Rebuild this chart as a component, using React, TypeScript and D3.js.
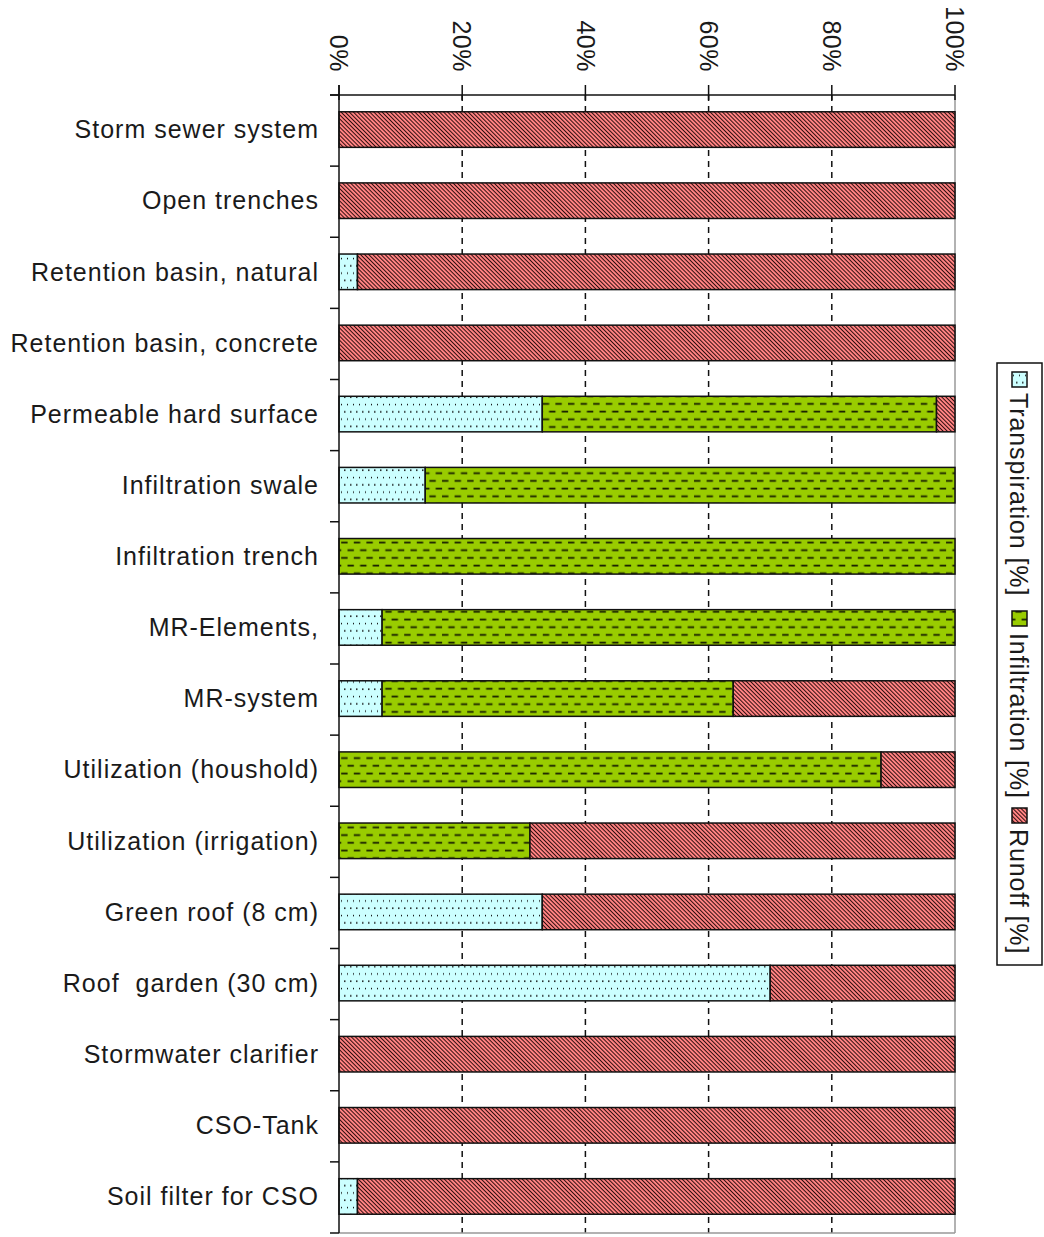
import React from "react";
import * as d3 from "d3";

// Water balance share per stormwater measure, in percent of rainfall.
const categories = [
  "Storm sewer system",
  "Open trenches",
  "Retention basin, natural",
  "Retention basin, concrete",
  "Permeable hard surface",
  "Infiltration swale",
  "Infiltration trench",
  "MR-Elements,",
  "MR-system",
  "Utilization (houshold)",
  "Utilization (irrigation)",
  "Green roof (8 cm)",
  "Roof  garden (30 cm)",
  "Stormwater clarifier",
  "CSO-Tank",
  "Soil filter for CSO",
];
const transpiration = [0, 0, 3, 0, 33, 14, 0, 7, 7, 0, 0, 33, 70, 0, 0, 3];
const infiltration = [0, 0, 0, 0, 64, 86, 100, 93, 57, 88, 31, 0, 0, 0, 0, 0];
const runoff = [100, 100, 97, 100, 3, 0, 0, 0, 36, 12, 69, 67, 30, 100, 100, 97];

const seriesKeys = ["transpiration", "infiltration", "runoff"];
const seriesLabels = ["Transpiration [%]", "Infiltration [%]", "Runoff [%]"];
const xTicks = [0, 20, 40, 60, 80, 100];

const W = 1044;
const H = 1237;
const FONT = "'Liberation Sans', Arial, sans-serif";
const INK = "#1a1a1a";

export default function App() {
  const x = d3.scaleLinear().domain([0, 100]).range([339, 955]);
  const y = d3
    .scaleBand<string>()
    .domain(categories)
    .range([95, 1233])
    .paddingInner(0.5)
    .paddingOuter(0.25);

  const rows = categories.map((c, i) => ({
    category: c,
    transpiration: transpiration[i],
    infiltration: infiltration[i],
    runoff: runoff[i],
  }));
  const stacked = d3.stack<any>().keys(seriesKeys)(rows);
  const fills: Record<string, string> = {
    transpiration: "url(#pTrans)",
    infiltration: "url(#pInf)",
    runoff: "url(#pRun)",
  };

  const [y0, y1] = y.range();
  const step = y.step();
  const legendItems = [
    { key: "transpiration", sy: 372, ty: 393 },
    { key: "infiltration", sy: 611, ty: 633 },
    { key: "runoff", sy: 808, ty: 829 },
  ];

  return (
    <svg
      width={W}
      height={H}
      style={{ position: "absolute", left: 0, top: 0, background: "#fff" }}
      fontFamily={FONT}
    >
      <defs>
        <pattern id="pTrans" patternUnits="userSpaceOnUse" width={6} height={14.6}>
          <rect width={6} height={14.6} fill="#ccffff" />
          <rect x={2} y={2.3} width={1.5} height={1.5} fill="#111" />
          <rect x={5} y={9.6} width={1.5} height={1.5} fill="#111" />
        </pattern>
        <pattern id="pInf" patternUnits="userSpaceOnUse" width={12.6} height={15.4}>
          <rect width={12.6} height={15.4} fill="#99cc00" />
          <rect x={1} y={2.6} width={6.4} height={1.8} fill="#1a2200" />
          <rect x={7.3} y={10.3} width={6.4} height={1.8} fill="#1a2200" />
          <rect x={-5.3} y={10.3} width={6.4} height={1.8} fill="#1a2200" />
        </pattern>
        <pattern
          id="pRun"
          patternUnits="userSpaceOnUse"
          width={8}
          height={2.9}
          patternTransform="rotate(45)"
        >
          <rect width={8} height={2.9} fill="#ff8282" />
          <rect y={0} width={8} height={0.95} fill="#2a0c0c" />
        </pattern>
      </defs>

      {/* dashed gridlines */}
      {xTicks
        .filter((t) => t > 0 && t < 100)
        .map((t) => (
          <line
            key={"g" + t}
            x1={x(t)}
            x2={x(t)}
            y1={y0}
            y2={y1}
            stroke="#111"
            strokeWidth={1.5}
            strokeDasharray="6,5"
          />
        ))}

      {/* plot area border (right and bottom) */}
      <line x1={x(100)} x2={x(100)} y1={y0} y2={y1} stroke="#999" strokeWidth={1.5} />
      <line x1={x(0)} x2={x(100)} y1={y1} y2={y1} stroke="#999" strokeWidth={1.5} />

      {/* stacked bars */}
      {stacked.map((s) => (
        <g key={s.key}>
          {s.map((d, i) =>
            d[1] - d[0] > 0 ? (
              <rect
                key={i}
                x={x(d[0])}
                y={(y(categories[i]) as number) - 1}
                width={x(d[1]) - x(d[0])}
                height={y.bandwidth()}
                fill={fills[s.key]}
                stroke="#111"
                strokeWidth={1.5}
              />
            ) : null
          )}
        </g>
      ))}

      {/* value axis on top */}
      <line x1={330} x2={x(100)} y1={y0} y2={y0} stroke="#111" strokeWidth={1.5} />
      {xTicks.map((t) => (
        <g key={"t" + t}>
          <line x1={x(t)} x2={x(t)} y1={85} y2={100} stroke="#111" strokeWidth={1.5} />
          <text
            transform={`translate(${x(t)},72) rotate(90)`}
            textAnchor="end"
            dy="0.35em"
            fontSize={25}
            letterSpacing={0.5}
            fill={INK}
          >
            {t}%
          </text>
        </g>
      ))}

      {/* category axis */}
      <line x1={x(0)} x2={x(0)} y1={85} y2={y1} stroke="#111" strokeWidth={1.5} />
      {d3.range(categories.length + 1).map((i) => (
        <line
          key={"ct" + i}
          x1={330}
          x2={x(0)}
          y1={y0 + i * step}
          y2={y0 + i * step}
          stroke="#111"
          strokeWidth={1.5}
        />
      ))}
      {categories.map((c) => (
        <text
          key={"cl" + c}
          x={319}
          y={(y(c) as number) + y.bandwidth() / 2 - 1}
          dy="0.35em"
          textAnchor="end"
          fontSize={25}
          letterSpacing={1.0}
          fill={INK}
          style={{ whiteSpace: "pre" }}
        >
          {c}
        </text>
      ))}

      {/* legend */}
      <rect x={997} y={363} width={45} height={602} fill="#fff" stroke="#111" strokeWidth={1.5} />
      {legendItems.map((it, i) => (
        <g key={it.key}>
          <rect
            x={1012}
            y={it.sy}
            width={15}
            height={15}
            fill={fills[it.key]}
            stroke="#111"
            strokeWidth={1.5}
          />
          <text
            transform={`translate(1019,${it.ty}) rotate(90)`}
            dy="0.35em"
            fontSize={25}
            letterSpacing={0.9}
            fill={INK}
          >
            {seriesLabels[i]}
          </text>
        </g>
      ))}
    </svg>
  );
}
